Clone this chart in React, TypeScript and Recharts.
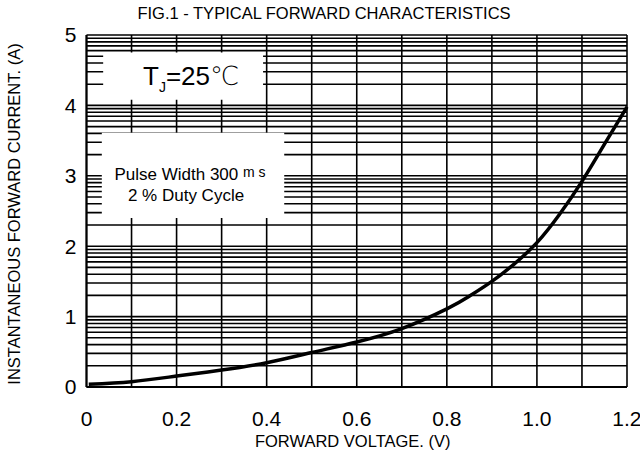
import { LineChart, Line, XAxis, YAxis, CartesianGrid, ReferenceArea, ReferenceLine, Label } from "recharts";

// forward voltage (V) vs instantaneous forward current (A)
const voltage = [0.005, 0.1, 0.2, 0.3, 0.4, 0.5, 0.6, 0.7, 0.8, 0.85, 0.9, 0.95, 1.0, 1.05, 1.1, 1.15, 1.2];
const current = [0.04, 0.075, 0.155, 0.24, 0.345, 0.49, 0.64, 0.83, 1.11, 1.29, 1.5, 1.75, 2.05, 2.45, 2.92, 3.45, 3.98];

const xTicks = [0, 0.2, 0.4, 0.6, 0.8, 1.0, 1.2];
const yTicks = [0, 1, 2, 3, 4, 5];

// the paper is a log-decade grid: lines at log10(1..9) inside each unit
const decadeSteps = [0, 0.301, 0.477, 0.602, 0.699, 0.778, 0.845, 0.903, 0.954];
const decades = [0, 1, 2, 3, 4];
const vGrid = [0, 0.1, 0.2, 0.3, 0.4, 0.5, 0.6, 0.7, 0.8, 0.9, 1.0, 1.1, 1.2];

const hGrid = [...decades.flatMap((d) => decadeSteps.map((s) => d + s)), 5];
const data = voltage.map((v, i) => ({ v, i: current[i] }));

const FONT = "'Liberation Sans', Arial, sans-serif";

export default function App() {
  return (
    <div style={{ position: "absolute", left: 0, top: 0, width: 640, height: 456, background: "#fff", fontFamily: FONT }}>
      <div
        style={{
          position: "absolute",
          top: 4,
          left: 0,
          width: 648,
          textAlign: "center",
          fontSize: 16.5,
          color: "#000",
        }}
      >
        FIG.1 - TYPICAL FORWARD CHARACTERISTICS
      </div>
      <LineChart width={640} height={456} data={data} margin={{ top: 35, right: 13, bottom: 0, left: 0 }}>
        <CartesianGrid horizontal={false} verticalValues={vGrid} stroke="#000" strokeWidth={1.6} strokeOpacity={1} />
        {hGrid.map((y) => (
          <ReferenceLine key={y} y={y} stroke="#000" strokeWidth={1.6} zIndex={-50} />
        ))}
        <ReferenceArea
          x1={0.037}
          x2={0.392}
          y1={4.08}
          y2={4.75}
          fill="#fff"
          fillOpacity={1}
          stroke="none"
          zIndex={50}
          label={(p: any) => {
            const vb = p.viewBox;
            const cx = vb.x + vb.width / 2 + 8;
            const by = vb.y + vb.height / 2 + 9;
            return (
              <text x={cx} y={by} textAnchor="middle" fontFamily={FONT} fontSize={26} fill="#000">
                T
                <tspan fontSize={14} dy={7}>J</tspan>
                <tspan dy={-7}>=25</tspan>
                <tspan fontFamily="'DejaVu Sans', sans-serif" fontWeight={300}>℃</tspan>
              </text>
            );
          }}
        />
        <ReferenceArea
          x1={0.034}
          x2={0.439}
          y1={2.4}
          y2={3.61}
          fill="#fff"
          fillOpacity={1}
          stroke="none"
          zIndex={50}
          label={(p: any) => {
            const vb = p.viewBox;
            const cx = vb.x + vb.width / 2 - 3;
            const cy = vb.y + vb.height / 2;
            return (
              <text textAnchor="middle" fontFamily={FONT} fontSize={17} fill="#000">
                <tspan x={cx} y={cy + 5}>
                  Pulse Width 300 <tspan fontSize={14} dy={-3}>m s</tspan>
                </tspan>
                <tspan x={cx - 4} y={cy + 26}>2 % Duty Cycle</tspan>
              </text>
            );
          }}
        />
        <XAxis
          dataKey="v"
          type="number"
          domain={[0, 1.2]}
          ticks={xTicks}
          tickFormatter={(t: number) => (t === 0 ? "0" : t.toFixed(1))}
          tickLine={false}
          tickMargin={18}
          axisLine={{ stroke: "#000", strokeWidth: 2 }}
          tick={{ fill: "#000", fontSize: 21, fontFamily: FONT }}
          height={69}
        >
          <Label
            value="FORWARD VOLTAGE. (V)"
            position="insideBottom"
            offset={9}
            dx={-4}
            style={{ fill: "#000", fontSize: 16.5, fontFamily: FONT }}
          />
        </XAxis>
        <YAxis
          type="number"
          domain={[0, 5]}
          ticks={yTicks}
          tickLine={false}
          tickMargin={4}
          axisLine={{ stroke: "#000", strokeWidth: 2 }}
          tick={{ fill: "#000", fontSize: 21, fontFamily: FONT }}
          width={86.5}
        >
          <Label
            value="INSTANTANEOUS FORWARD CURRENT. (A)"
            angle={-90}
            position="insideLeft"
            offset={14}
            dy={3}
            style={{ fill: "#000", fontSize: 16.5, fontFamily: FONT, textAnchor: "middle" }}
          />
        </YAxis>
        <Line
          dataKey="i"
          type="natural"
          stroke="#000"
          strokeWidth={3.5}
          dot={false}
          activeDot={false}
          isAnimationActive={false}
        />
      </LineChart>
    </div>
  );
}
